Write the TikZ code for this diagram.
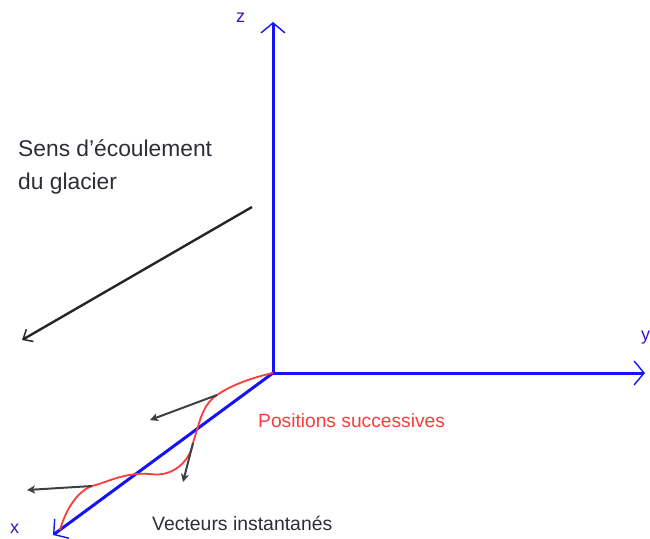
\documentclass[tikz,border=0pt]{standalone}
\usepackage{fontspec}
\setmainfont{Liberation Sans}
\usetikzlibrary{arrows.meta}

\definecolor{axisblue}{RGB}{20,20,245}
\definecolor{trajred}{RGB}{250,60,60}
\definecolor{textgray}{RGB}{45,45,55}

\begin{document}
\begin{tikzpicture}[x=1pt, y=-1pt,
    axis/.style={axisblue, line width=3pt, -{Straight Barb[length=10pt, width=24pt, line width=1.4pt]}},
    flow/.style={black!85, line width=2.4pt, -{Straight Barb[length=8pt, width=14pt, line width=1.5pt]}},
    vec/.style={black!75, line width=2pt, -{Stealth[length=8pt, width=8pt, inset=2pt]}},
    traj/.style={trajred, line width=1.8pt},
    lbl/.style={inner sep=0pt, anchor=base west}]
  \useasboundingbox (0,0) rectangle (650,538);

  % axes
  \coordinate (O) at (273,373);
  \coordinate (zend) at (273,22);
  \coordinate (yend) at (645,373);
  \coordinate (xend) at (53,535);
  \draw[axis] (O) -- (zend);
  \draw[axis] (O) -- (yend);
  \draw[axis] (O) -- (xend);
  \node[lbl, axisblue!80!red, font=\fontsize{18}{18}\selectfont] (zlab) at (236,23) {z};
  \node[lbl, axisblue!80!red, font=\fontsize{18}{18}\selectfont] (ylab) at (641,340) {y};
  \node[lbl, axisblue!80!red, font=\fontsize{18}{18}\selectfont] (xlab) at (10,533) {x};

  % flow direction
  \coordinate (fstart) at (252,207);
  \coordinate (fend) at (22,340);
  \draw[flow] (fstart) -- (fend);
  \node[lbl, textgray, align=left, font=\fontsize{22.8}{33}\selectfont] (sens) at (18,189)
    {Sens d'écoulement\\du glacier};

  % successive positions
  \coordinate (p1) at (217,395);
  \coordinate (p2) at (193,443);
  \coordinate (p3) at (92,486);
  \draw[traj] (O) .. controls (250,378) and (230,386) .. (p1)
    .. controls (204,403) and (200,420) .. (197,430)
    .. controls (195,436) and (194,440) .. (p2)
    .. controls (191,458) and (175,478) .. (150,474)
    .. controls (125,472) and (108,482) .. (p3)
    .. controls (75,492) and (64,515) .. (60,530);
  \node[lbl, trajred, font=\fontsize{19.2}{19.2}\selectfont] (pos) at (258,427) {Positions successives};

  % instantaneous vectors
  \coordinate (v1) at (150,420);
  \coordinate (v2) at (183,482);
  \coordinate (v3) at (27,490);
  \draw[vec] (p1) -- (v1);
  \draw[vec] (p2) -- (v2);
  \draw[vec] (p3) -- (v3);
  \node[lbl, textgray, font=\fontsize{19.4}{19.4}\selectfont] (vect) at (152,530) {Vecteurs instantanés};
\end{tikzpicture}
\end{document}
